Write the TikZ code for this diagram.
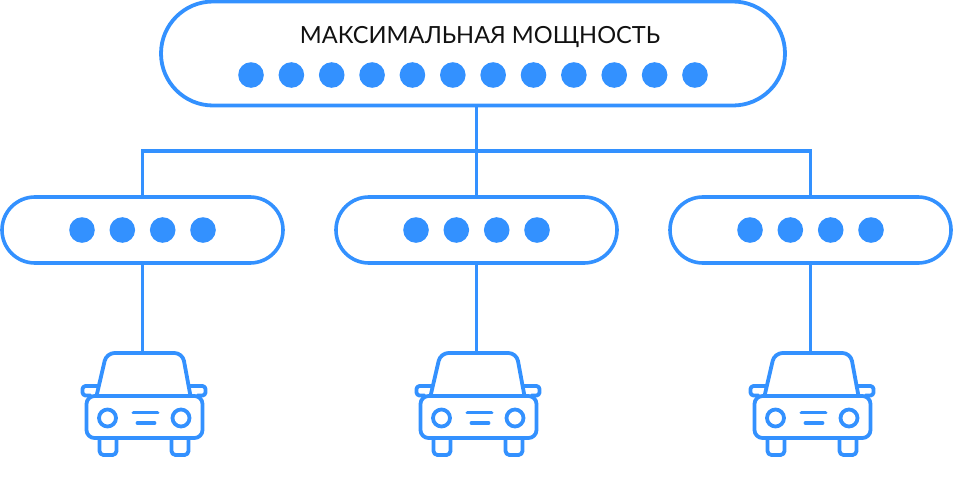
\documentclass[tikz,border=0pt]{standalone}
\usepackage{fontspec}
\setmainfont{Lato}
\usetikzlibrary{calc}
\definecolor{bl}{HTML}{3391FF}
\definecolor{ink}{HTML}{111111}
\tikzset{
  x=1pt,y=-1pt,
  link/.style={draw=bl,line width=3.3pt},
  bigpill/.style={draw=bl,line width=3.8pt,rounded corners=52pt,minimum width=624pt,minimum height=104pt,inner sep=0pt,fill=white},
  pill/.style={draw=bl,line width=3.6pt,rounded corners=32.9pt,minimum width=281pt,minimum height=66pt,inner sep=0pt,fill=white},
  dot/.style={circle,fill=bl,minimum size=25.6pt,inner sep=0pt},
  carline/.style={draw=bl,line width=3.8pt,line cap=round,line join=round},
  title/.style={text=ink,font=\fontsize{23.6}{28}\selectfont,inner sep=0pt},
  pics/car/.style={code={
    \coordinate (-roof) at (0,-45);
    \draw[carline,rounded corners=8pt] (-46,-2) -- (-36,-45) -- (40,-45) -- (48,-2);
    \draw[carline,rounded corners=8pt] (-56,-2) rectangle (60,40);
    \draw[carline] (-46,-2) -- (48,-2);
    \draw[carline,rounded corners=3pt] (-44,-12) -- (-60,-12) -- (-60,-2.5) -- (-52,-2.5);
    \draw[carline,rounded corners=3pt] (46,-12) -- (63,-12) -- (63,-2.5) -- (55,-2.5);
    \draw[carline,rounded corners=4pt] (-43,40) -- (-43,57) -- (-26,57) -- (-26,40);
    \draw[carline,rounded corners=4pt] (29,40) -- (29,57) -- (46,57) -- (46,40);
    \draw[carline] (-35,20) circle (8.5);
    \draw[carline] (38.5,20) circle (8.5);
    \draw[carline] (-9,14.5) -- (15,14.5);
    \draw[carline] (-5,25) -- (12,25);
  }}
}
\begin{document}
\begin{tikzpicture}
\useasboundingbox (0,0) rectangle (953,477);
% top box
\node[bigpill] (top) at (473,53.5) {};
\node[title] (label) at (480,37.5) {МАКСИМАЛЬНАЯ МОЩНОСТЬ};
\foreach \i in {0,...,11} {
  \node[dot] (t\i) at ({251+\i*40.36},75) {};
}
% middle boxes
\node[pill] (m1) at (142.5,230) {};
\node[pill] (m2) at (476.5,230) {};
\node[pill] (m3) at (810.5,230) {};
\foreach \n/\c in {1/142.5,2/476.5,3/810.5} {
  \foreach \k/\o in {a/-60.5,b/-20.2,c/20.2,d/60.5} {
    \node[dot] (m\n\k) at ({\c+\o},230) {};
  }
}
% cars
\pic (c1) at (142.5,398) {car};
\pic (c2) at (476.5,398) {car};
\pic (c3) at (810.5,398) {car};
% connectors
\coordinate (bus) at (476.5,151);
\draw[link] (top.south -| m2.north) -- (m2.north);
\draw[link] (m1.north) |- (bus) -| (m3.north);
\draw[link] (m1.south) -- (c1-roof);
\draw[link] (m2.south) -- (c2-roof);
\draw[link] (m3.south) -- (c3-roof);
\end{tikzpicture}
\end{document}
